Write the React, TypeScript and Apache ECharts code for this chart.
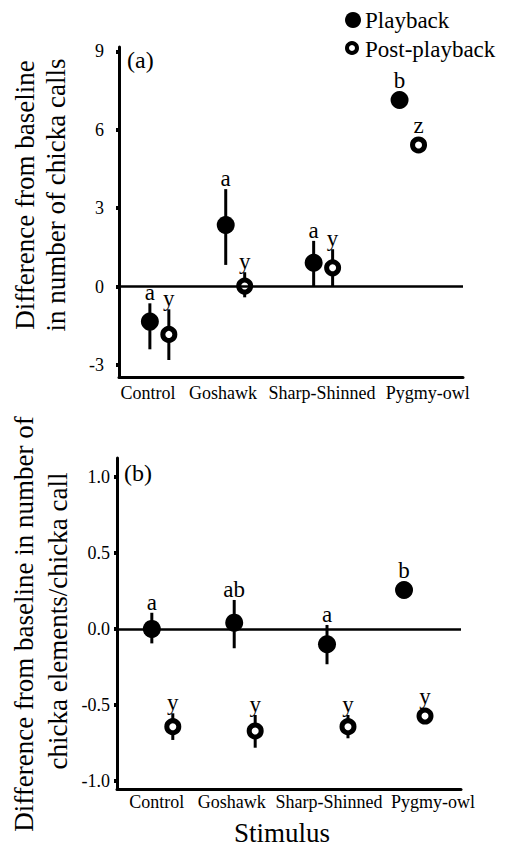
import React, { useEffect, useRef } from "react";
import * as echarts from "echarts";

// ---------- DATA ----------
const categories = ["Control", "Goshawk", "Sharp-Shinned", "Pygmy-owl"];

// Panel (a): difference from baseline in number of chicka calls
const callsPlaybackMean = [-1.34, 2.36, 0.91, 7.14];
const callsPlaybackLow = [-2.4, 0.83, 0.02, 6.94];
const callsPlaybackHigh = [-0.64, 3.73, 1.75, 7.34];
const callsPlaybackLetters = ["a", "a", "a", "b"];
const callsPostMean = [-1.83, 0.02, 0.72, 5.42];
const callsPostLow = [-2.81, -0.41, 0.02, 5.22];
const callsPostHigh = [-0.87, 0.55, 1.43, 5.62];
const callsPostLetters = ["y", "y", "y", "z"];
const callsTicks = [-3, 0, 3, 6, 9];

// Panel (b): difference from baseline in number of chicka elements / chicka call
const elemPlaybackMean = [0.0, 0.041, -0.101, 0.255];
const elemPlaybackLow = [-0.095, -0.127, -0.232, 0.215];
const elemPlaybackHigh = [0.106, 0.19, 0.026, 0.295];
const elemPlaybackLetters = ["a", "ab", "a", "b"];
const elemPostMean = [-0.642, -0.67, -0.642, -0.572];
const elemPostLow = [-0.729, -0.78, -0.718, -0.612];
const elemPostHigh = [-0.554, -0.565, -0.565, -0.532];
const elemPostLetters = ["y", "y", "y", "y"];
const elemTicks = [-1.0, -0.5, 0.0, 0.5, 1.0];

// ---------- LAYOUT / STYLE ----------
const FAMILY = "Liberation Serif, Times New Roman, serif";
const PANELS = [
  {
    grid: { left: 119, top: 47, width: 344, height: 330 },
    yMin: -3.46,
    yMax: 9.17,
    center: 0.445,
    dodge: 0.113,
    groupNudge: [0.036, -0.06, -0.012, 0.012],
    labelNudge: [-0.1, -0.205, -0.025, 0.235],
    yLabelMargin: 15,
    xLabelMargin: 7,
  },
  {
    grid: { left: 117, top: 458, width: 344, height: 331 },
    yMin: -1.051,
    yMax: 1.122,
    center: 0.54,
    dodge: 0.125,
    groupNudge: [0, -0.018, 0.088, 0.006],
    labelNudge: [-0.067, -0.173, -0.013, 0.226],
    yLabelMargin: 7,
    xLabelMargin: 4,
  },
];

function makeSeries(
  gi: number,
  means: number[],
  lows: number[],
  highs: number[],
  letters: string[],
  filled: boolean
) {
  const p = PANELS[gi];
  const off = filled ? -p.dodge : p.dodge;
  return {
    type: "custom",
    name: filled ? "Playback" : "Post-playback",
    xAxisIndex: gi,
    yAxisIndex: gi,
    z: 3,
    data: means.map((m, i) => [i + p.center + p.groupNudge[i] + off, m, lows[i], highs[i]]),
    renderItem: (params: any, api: any) => {
      const x = api.value(0);
      const pc = api.coord([x, api.value(1)]);
      const pl = api.coord([x, api.value(2)]);
      const ph = api.coord([x, api.value(3)]);
      const topY = Math.min(ph[1], pc[1] - 9);
      return {
        type: "group",
        children: [
          {
            type: "line",
            shape: { x1: pc[0], y1: pl[1], x2: pc[0], y2: ph[1] },
            style: { stroke: "#000", lineWidth: 3 },
          },
          {
            type: "circle",
            shape: { cx: pc[0], cy: pc[1], r: filled ? 9 : 6 },
            style: filled
              ? { fill: "#000" }
              : { fill: "#fff", stroke: "#000", lineWidth: 5 },
          },
          {
            type: "text",
            x: pc[0],
            y: topY + 1,
            style: {
              text: letters[params.dataIndex],
              fill: "#000",
              font: `23px ${FAMILY}`,
              textAlign: "center",
              textVerticalAlign: "bottom",
              align: "center",
              verticalAlign: "bottom",
            },
          },
        ],
      };
    },
  };
}

function zeroLine(gi: number) {
  return {
    type: "line",
    xAxisIndex: gi,
    yAxisIndex: gi,
    z: 1,
    data: [],
    silent: true,
    markLine: {
      symbol: "none",
      silent: true,
      label: { show: false },
      lineStyle: { color: "#000", width: 2.5, type: "solid" },
      data: [{ yAxis: 0 }],
    },
  };
}

function textEl(
  text: string,
  x: number,
  y: number,
  size: number,
  align: string,
  rotation = 0
) {
  return {
    type: "text",
    x,
    y,
    rotation,
    style: {
      text,
      fill: "#000",
      font: `${size}px ${FAMILY}`,
      textAlign: align,
      textVerticalAlign: "middle",
      align,
      verticalAlign: "middle",
    },
  };
}

export default function App() {
  const ref = useRef<HTMLDivElement>(null);

  useEffect(() => {
    document.body.style.margin = "0";
    if (!ref.current) return;
    const chart = echarts.init(ref.current, undefined, { renderer: "svg" });

    const xAxes = PANELS.map((p, gi) => {
      const labelPos = categories.map((_, i) => i + p.center + p.labelNudge[i]);
      return {
        type: "value",
        gridIndex: gi,
        min: 0,
        max: 4.1,
        splitLine: { show: false },
        axisTick: { show: false },
        axisLine: { show: true, onZero: false, lineStyle: { color: "#000", width: 3 } },
        axisLabel: {
          customValues: labelPos,
          margin: p.xLabelMargin,
          color: "#000",
          fontSize: 18,
          fontFamily: FAMILY,
          formatter: (v: number) => {
            let best = 0;
            labelPos.forEach((lp, j) => {
              if (Math.abs(lp - v) < Math.abs(labelPos[best] - v)) best = j;
            });
            return categories[best];
          },
        },
      };
    });

    const ticksList = [callsTicks, elemTicks];
    const yAxes = PANELS.map((p, gi) => ({
      type: "value",
      gridIndex: gi,
      min: p.yMin,
      max: p.yMax,
      splitLine: { show: false },
      axisLine: { show: true, onZero: false, lineStyle: { color: "#000", width: 3 } },
      axisTick: {
        show: true,
        customValues: ticksList[gi],
        length: 3,
        lineStyle: { color: "#000", width: 4 },
      },
      axisLabel: {
        customValues: ticksList[gi],
        margin: p.yLabelMargin,
        color: "#000",
        fontSize: 18,
        fontFamily: FAMILY,
        formatter: (v: number) => (gi === 0 ? String(Math.round(v)) : v.toFixed(1)),
      },
    }));

    chart.setOption({
      animation: false,
      backgroundColor: "#fff",
      textStyle: { fontFamily: FAMILY },
      grid: PANELS.map((p) => ({ ...p.grid, containLabel: false })),
      xAxis: xAxes,
      yAxis: yAxes,
      series: [
        zeroLine(0),
        zeroLine(1),
        makeSeries(0, callsPlaybackMean, callsPlaybackLow, callsPlaybackHigh, callsPlaybackLetters, true),
        makeSeries(0, callsPostMean, callsPostLow, callsPostHigh, callsPostLetters, false),
        makeSeries(1, elemPlaybackMean, elemPlaybackLow, elemPlaybackHigh, elemPlaybackLetters, true),
        makeSeries(1, elemPostMean, elemPostLow, elemPostHigh, elemPostLetters, false),
      ],
      graphic: [
        // legend
        { type: "circle", shape: { cx: 353, cy: 20, r: 8 }, style: { fill: "#000" } },
        textEl("Playback", 365, 20, 23, "left"),
        {
          type: "circle",
          shape: { cx: 352, cy: 48, r: 5 },
          style: { fill: "#fff", stroke: "#000", lineWidth: 4 },
        },
        textEl("Post-playback", 365, 49, 23, "left"),
        // panel tags
        textEl("(a)", 127, 60, 24, "left"),
        textEl("(b)", 124, 473, 24, "left"),
        // y-axis titles
        textEl("Difference from baseline", 25, 195, 27, "center", Math.PI / 2),
        textEl("in number of chicka calls", 56, 195, 27, "center", Math.PI / 2),
        textEl("Difference from baseline in number of", 24, 624, 27, "center", Math.PI / 2),
        textEl("chicka elements/chicka call", 58, 621, 27, "center", Math.PI / 2),
        // x-axis title
        textEl("Stimulus", 282, 833, 27, "center"),
      ],
    });

    return () => chart.dispose();
  }, []);

  return (
    <div
      ref={ref}
      style={{ width: 505, height: 851, overflow: "hidden", background: "#fff" }}
    />
  );
}
